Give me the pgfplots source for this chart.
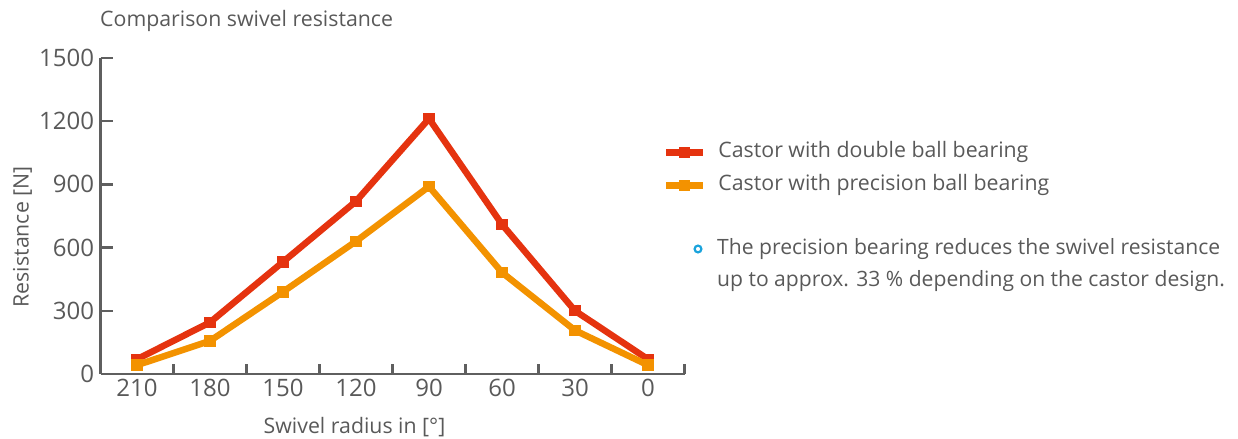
\documentclass[border=0pt]{standalone}
\usepackage{fontspec}
\setmainfont{Open Sans}
\usepackage{pgfplots}
\pgfplotsset{compat=1.18}
\definecolor{cred}{HTML}{E5330F}
\definecolor{corange}{HTML}{F39200}
\definecolor{txt}{HTML}{595959}
\definecolor{axc}{HTML}{5F5F5F}
\definecolor{ccyan}{HTML}{1AA3DC}
\begin{document}
\begin{tikzpicture}[x=1bp,y=1bp]
\path (0,0) rectangle (1238,439);
\begin{axis}[
  at={(100.5bp,65bp)}, anchor=south west,
  scale only axis, width=584bp, height=316bp,
  xmin=-0.5, xmax=7.5, ymin=0, ymax=1500,
  axis lines*=left,
  axis line style={axc, line width=2.4bp},
  tick align=inside,
  xtick={0,...,7},
  xticklabels={210,180,150,120,90,60,30,0},
  minor xtick={-0.5,0.5,...,7.5},
  ytick={0,300,...,1500},
  major tick length=12bp,
  x tick style={draw=none},
  minor x tick style={draw=axc, line width=2.4bp},
  minor tick length=10bp,
  y tick style={axc, line width=2.4bp},
  /pgf/number format/assume math mode=true,
  /pgf/number format/1000 sep={},
  tick label style={font=\fontsize{24bp}{28bp}\selectfont, text=txt},
  yticklabel style={xshift=-3bp},
  xticklabel style={yshift=-2bp},
  xlabel={Swivel radius in [°]},
  ylabel={Resistance [N]},
  label style={font=\fontsize{21.3bp}{25bp}\selectfont, text=txt},
  xlabel style={at={(rel axis cs:0.435,0)}, anchor=center, yshift=-53bp},
  ylabel style={at={(rel axis cs:0,0.434)}, anchor=center, yshift=78bp},
  legend style={draw=none, fill=none, at={(rel axis cs:0.9631,0.6490)}, anchor=west,
    inner sep=0pt, outer sep=0pt, row sep=12bp, column sep=12bp,
    nodes={inner sep=0pt, anchor=west, text height=15.5bp, text depth=5.5bp, text=txt,
      font=\fontsize{21.3bp}{25bp}\selectfont}},
  legend cell align=left,
  legend image code/.code={\draw[#1, mark=none] (0bp,0bp) -- (37bp,0bp);
     \path[#1, draw=none] plot coordinates {(18.5bp,0bp)};},
  clip=false,
]
\addplot[cred, line width=6.5bp, mark=square*, mark size=5.2bp, mark options={line width=0pt}] coordinates {
(0,70) (1,245) (2,532) (3,820) (4,1212) (5,710) (6,300) (7,70)};
\addplot[corange, line width=6.5bp, mark=square*, mark size=5.2bp, mark options={line width=0pt}] coordinates {
(0,42) (1,157) (2,390) (3,630) (4,890) (5,482) (6,207) (7,42)};
\legend{Castor with double ball bearing, Castor with precision ball bearing}
\end{axis}
\node[anchor=west, text=txt, font=\fontsize{21.3bp}{25bp}\selectfont, inner sep=0pt] at (100,418) {Comparison swivel resistance};
\draw[ccyan, line width=2.2bp] (698,190) circle (3.4bp);
\node[anchor=north west, text=txt, font=\fontsize{21.1bp}{32bp}\selectfont, inner sep=0pt, align=left] at (717,201) {The precision bearing reduces the swivel resistance\\up to approx. 33~\% depending on the castor design.};
\pgfresetboundingbox
\path[use as bounding box] (0,0) rectangle (1238,439);
\end{tikzpicture}
\end{document}
